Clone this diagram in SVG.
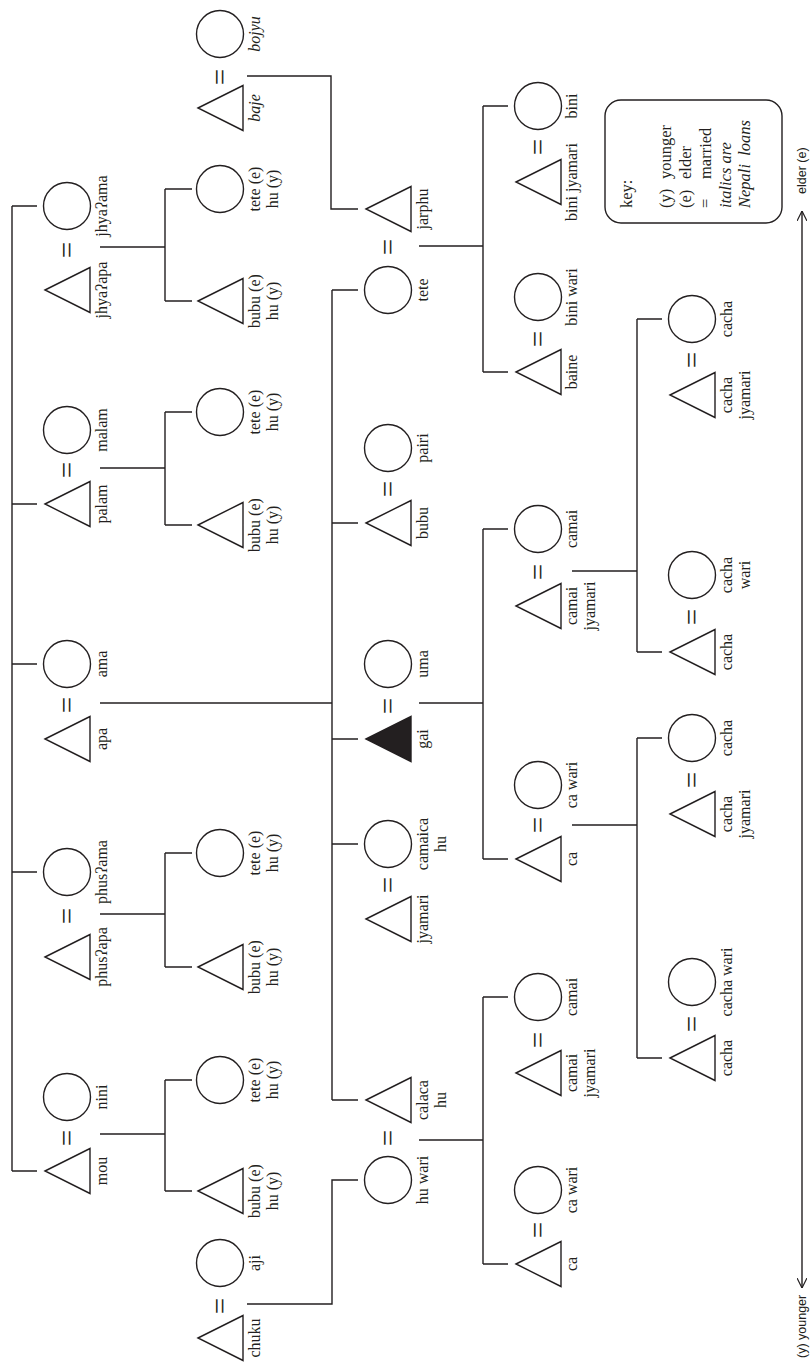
<svg xmlns="http://www.w3.org/2000/svg" width="811" height="1362" viewBox="0 0 811 1362">
<style>
.s{fill:none;stroke:#231f20;stroke-width:1.4}
.f{fill:#231f20;stroke:#231f20;stroke-width:1.4}
.ln{fill:none;stroke:#231f20;stroke-width:1.4}
.lb{font-family:'Liberation Serif','Times New Roman',serif;font-size:16px;fill:#231f20;text-anchor:middle}
.it{font-style:italic}
.eq{font-family:'Liberation Serif','Times New Roman',serif;font-size:29px;fill:#231f20;text-anchor:middle;dominant-baseline:central}
.key{font-family:'Liberation Serif','Times New Roman',serif;font-size:16.5px;fill:#231f20}
.ax{font-family:'Liberation Sans',Arial,sans-serif;font-size:12.5px;fill:#231f20;dominant-baseline:central}
</style>
<defs>
<path id="tri" d="M0,0 L45,-22.5 L45,22.5 Z"/>
<circle id="cir" cx="0" cy="0" r="23.5"/>
<marker id="ah" viewBox="0 0 10 10" refX="10" refY="5" markerWidth="10" markerHeight="10" markerUnits="userSpaceOnUse" orient="auto-start-reverse">
<path d="M0,0 L10,5 L0,10" fill="none" stroke="#231f20" stroke-width="1.2"/>
</marker>
</defs>

<g id="connectors">
<path class="ln" d="M12,206 V1171 M12,206 H37 M12,504 H37 M12,664 H37 M12,872 H37 M12,1171 H37"/>
<path class="ln" d="M100,247 H165 M165,189 V301 M165,189 H192 M165,301 H192"/>
<path class="ln" d="M100,468 H165 M165,412 V525 M165,412 H192 M165,525 H192"/>
<path class="ln" d="M100,703 H332"/>
<path class="ln" d="M100,914 H165 M165,853 V967 M165,853 H192 M165,967 H192"/>
<path class="ln" d="M100,1134 H165 M165,1080 V1191 M165,1080 H192 M165,1191 H192"/>
<path class="ln" d="M247,76 H331 V209 H358"/>
<path class="ln" d="M247,1304 H332 V1180 H358"/>
<path class="ln" d="M332,290 V1100 M332,290 H358 M332,523 H358 M332,739 H358 M332,844 H358 M332,1100 H358"/>
<path class="ln" d="M419,246 H483 M483,106 V372 M483,106 H508 M483,372 H508"/>
<path class="ln" d="M419,703 H483 M483,529 V859 M483,529 H508 M483,859 H508"/>
<path class="ln" d="M419,1140 H483 M483,997 V1264 M483,997 H508 M483,1264 H508"/>
<path class="ln" d="M572,571 H637 M637,319 V652 M637,319 H662 M637,652 H662"/>
<path class="ln" d="M572,825 H637 M637,738 V1058 M637,738 H662 M637,1058 H662"/>
</g>

<g font-family="Liberation Serif, serif">
<!-- Column 1 -->
<g id="n_jhyaama"><use href="#cir" class="s" x="67" y="206"/><text class="lb" x="107" y="206" transform="rotate(-90 107 206)">jhyaʔama</text></g>
<g id="n_jhyaapa"><use href="#tri" class="s" x="45" y="290"/><text class="lb" x="107" y="290" transform="rotate(-90 107 290)">jhyaʔapa</text></g>
<text class="eq" x="67" y="250" transform="rotate(-90 67 250)">=</text>
<g id="n_malam"><use href="#cir" class="s" x="67" y="430"/><text class="lb" x="107" y="430" transform="rotate(-90 107 430)">malam</text></g>
<g id="n_palam"><use href="#tri" class="s" x="45" y="504"/><text class="lb" x="107" y="504" transform="rotate(-90 107 504)">palam</text></g>
<text class="eq" x="67" y="470" transform="rotate(-90 67 470)">=</text>
<g id="n_ama"><use href="#cir" class="s" x="67" y="664"/><text class="lb" x="107" y="664" transform="rotate(-90 107 664)">ama</text></g>
<g id="n_apa"><use href="#tri" class="s" x="45" y="739"/><text class="lb" x="107" y="739" transform="rotate(-90 107 739)">apa</text></g>
<text class="eq" x="67" y="705" transform="rotate(-90 67 705)">=</text>
<g id="n_phusama"><use href="#cir" class="s" x="67" y="872"/><text class="lb" x="107" y="872" transform="rotate(-90 107 872)">phusʔama</text></g>
<g id="n_phusapa"><use href="#tri" class="s" x="45" y="957"/><text class="lb" x="107" y="957" transform="rotate(-90 107 957)">phusʔapa</text></g>
<text class="eq" x="67" y="916" transform="rotate(-90 67 916)">=</text>
<g id="n_nini"><use href="#cir" class="s" x="67" y="1097"/><text class="lb" x="107" y="1097" transform="rotate(-90 107 1097)">nini</text></g>
<g id="n_mou"><use href="#tri" class="s" x="45" y="1171"/><text class="lb" x="107" y="1171" transform="rotate(-90 107 1171)">mou</text></g>
<text class="eq" x="67" y="1138" transform="rotate(-90 67 1138)">=</text>

<!-- Column 2 -->
<g id="n_bojyu"><use href="#cir" class="s" x="220" y="34"/><text class="lb it" x="260" y="34" transform="rotate(-90 260 34)">bojyu</text></g>
<g id="n_baje"><use href="#tri" class="s" x="198" y="108"/><text class="lb it" x="260" y="108" transform="rotate(-90 260 108)">baje</text></g>
<text class="eq" x="220" y="77" transform="rotate(-90 220 77)">=</text>
<g id="n_tete1"><use href="#cir" class="s" x="220" y="189"/><text class="lb" x="260" y="189" transform="rotate(-90 260 189)"><tspan x="260">tete (e)</tspan><tspan x="260" dy="18">hu (y)</tspan></text></g>
<g id="n_bubu1"><use href="#tri" class="s" x="198" y="301"/><text class="lb" x="260" y="301" transform="rotate(-90 260 301)"><tspan x="260">bubu (e)</tspan><tspan x="260" dy="18">hu (y)</tspan></text></g>
<g id="n_tete2"><use href="#cir" class="s" x="220" y="412"/><text class="lb" x="260" y="412" transform="rotate(-90 260 412)"><tspan x="260">tete (e)</tspan><tspan x="260" dy="18">hu (y)</tspan></text></g>
<g id="n_bubu2"><use href="#tri" class="s" x="198" y="525"/><text class="lb" x="260" y="525" transform="rotate(-90 260 525)"><tspan x="260">bubu (e)</tspan><tspan x="260" dy="18">hu (y)</tspan></text></g>
<g id="n_tete3"><use href="#cir" class="s" x="220" y="853"/><text class="lb" x="260" y="853" transform="rotate(-90 260 853)"><tspan x="260">tete (e)</tspan><tspan x="260" dy="18">hu (y)</tspan></text></g>
<g id="n_bubu3"><use href="#tri" class="s" x="198" y="967"/><text class="lb" x="260" y="967" transform="rotate(-90 260 967)"><tspan x="260">bubu (e)</tspan><tspan x="260" dy="18">hu (y)</tspan></text></g>
<g id="n_tete4"><use href="#cir" class="s" x="220" y="1080"/><text class="lb" x="260" y="1080" transform="rotate(-90 260 1080)"><tspan x="260">tete (e)</tspan><tspan x="260" dy="18">hu (y)</tspan></text></g>
<g id="n_bubu4"><use href="#tri" class="s" x="198" y="1191"/><text class="lb" x="260" y="1191" transform="rotate(-90 260 1191)"><tspan x="260">bubu (e)</tspan><tspan x="260" dy="18">hu (y)</tspan></text></g>
<g id="n_aji"><use href="#cir" class="s" x="220" y="1263"/><text class="lb" x="260" y="1263" transform="rotate(-90 260 1263)">aji</text></g>
<g id="n_chuku"><use href="#tri" class="s" x="198" y="1338"/><text class="lb" x="260" y="1338" transform="rotate(-90 260 1338)">chuku</text></g>
<text class="eq" x="220" y="1306" transform="rotate(-90 220 1306)">=</text>

<!-- Column 3 -->
<g id="n_jarphu"><use href="#tri" class="s" x="366" y="209"/><text class="lb" x="428" y="209" transform="rotate(-90 428 209)">jarphu</text></g>
<text class="eq" x="388" y="247" transform="rotate(-90 388 247)">=</text>
<g id="n_tete"><use href="#cir" class="s" x="388" y="290"/><text class="lb" x="428" y="290" transform="rotate(-90 428 290)">tete</text></g>
<g id="n_pairi"><use href="#cir" class="s" x="388" y="448"/><text class="lb" x="428" y="448" transform="rotate(-90 428 448)">pairi</text></g>
<text class="eq" x="388" y="489" transform="rotate(-90 388 489)">=</text>
<g id="n_bubu"><use href="#tri" class="s" x="366" y="523"/><text class="lb" x="428" y="523" transform="rotate(-90 428 523)">bubu</text></g>
<g id="n_uma"><use href="#cir" class="s" x="388" y="664"/><text class="lb" x="428" y="664" transform="rotate(-90 428 664)">uma</text></g>
<text class="eq" x="388" y="706" transform="rotate(-90 388 706)">=</text>
<g id="n_gai"><use href="#tri" class="f" x="366" y="739"/><text class="lb" x="428" y="739" transform="rotate(-90 428 739)">gai</text></g>
<g id="n_camaicahu"><use href="#cir" class="s" x="388" y="844"/><text class="lb" x="428" y="844" transform="rotate(-90 428 844)"><tspan x="428">camaica</tspan><tspan x="428" dy="18">hu</tspan></text></g>
<text class="eq" x="388" y="885" transform="rotate(-90 388 885)">=</text>
<g id="n_jyamari"><use href="#tri" class="s" x="366" y="919"/><text class="lb" x="428" y="919" transform="rotate(-90 428 919)">jyamari</text></g>
<g id="n_calacahu"><use href="#tri" class="s" x="366" y="1100"/><text class="lb" x="428" y="1100" transform="rotate(-90 428 1100)"><tspan x="428">calaca</tspan><tspan x="428" dy="18">hu</tspan></text></g>
<text class="eq" x="388" y="1138" transform="rotate(-90 388 1138)">=</text>
<g id="n_huwari"><use href="#cir" class="s" x="388" y="1180"/><text class="lb" x="428" y="1180" transform="rotate(-90 428 1180)">hu wari</text></g>

<!-- Column 4 -->
<g id="n_bini"><use href="#cir" class="s" x="538" y="106"/><text class="lb" x="577" y="106" transform="rotate(-90 577 106)">bini</text></g>
<text class="eq" x="538" y="147" transform="rotate(-90 538 147)">=</text>
<g id="n_binijyamari"><use href="#tri" class="s" x="516" y="182"/><text class="lb" x="577" y="182" transform="rotate(-90 577 182)">bini jyamari</text></g>
<g id="n_biniwari"><use href="#cir" class="s" x="538" y="297"/><text class="lb" x="577" y="297" transform="rotate(-90 577 297)">bini wari</text></g>
<text class="eq" x="538" y="339" transform="rotate(-90 538 339)">=</text>
<g id="n_baine"><use href="#tri" class="s" x="516" y="372"/><text class="lb" x="577" y="372" transform="rotate(-90 577 372)">baine</text></g>
<g id="n_camai1"><use href="#cir" class="s" x="538" y="529"/><text class="lb" x="577" y="529" transform="rotate(-90 577 529)">camai</text></g>
<text class="eq" x="538" y="572" transform="rotate(-90 538 572)">=</text>
<g id="n_camaijyamari1"><use href="#tri" class="s" x="516" y="606"/><text class="lb" x="577" y="606" transform="rotate(-90 577 606)"><tspan x="577">camai</tspan><tspan x="577" dy="18">jyamari</tspan></text></g>
<g id="n_cawari1"><use href="#cir" class="s" x="538" y="785"/><text class="lb" x="577" y="785" transform="rotate(-90 577 785)">ca wari</text></g>
<text class="eq" x="538" y="825" transform="rotate(-90 538 825)">=</text>
<g id="n_ca1"><use href="#tri" class="s" x="516" y="859"/><text class="lb" x="577" y="859" transform="rotate(-90 577 859)">ca</text></g>
<g id="n_camai2"><use href="#cir" class="s" x="538" y="997"/><text class="lb" x="577" y="997" transform="rotate(-90 577 997)">camai</text></g>
<text class="eq" x="538" y="1040" transform="rotate(-90 538 1040)">=</text>
<g id="n_camaijyamari2"><use href="#tri" class="s" x="516" y="1073"/><text class="lb" x="577" y="1073" transform="rotate(-90 577 1073)"><tspan x="577">camai</tspan><tspan x="577" dy="18">jyamari</tspan></text></g>
<g id="n_cawari2"><use href="#cir" class="s" x="538" y="1190"/><text class="lb" x="577" y="1190" transform="rotate(-90 577 1190)">ca wari</text></g>
<text class="eq" x="538" y="1230" transform="rotate(-90 538 1230)">=</text>
<g id="n_ca2"><use href="#tri" class="s" x="516" y="1264"/><text class="lb" x="577" y="1264" transform="rotate(-90 577 1264)">ca</text></g>

<!-- Column 5 -->
<g id="n_cacha1"><use href="#cir" class="s" x="692" y="319"/><text class="lb" x="732" y="319" transform="rotate(-90 732 319)">cacha</text></g>
<text class="eq" x="692" y="360" transform="rotate(-90 692 360)">=</text>
<g id="n_cachajyamari1"><use href="#tri" class="s" x="670" y="395"/><text class="lb" x="732" y="395" transform="rotate(-90 732 395)"><tspan x="732">cacha</tspan><tspan x="732" dy="18">jyamari</tspan></text></g>
<g id="n_cachawari1"><use href="#cir" class="s" x="692" y="575"/><text class="lb" x="732" y="575" transform="rotate(-90 732 575)"><tspan x="732">cacha</tspan><tspan x="732" dy="18">wari</tspan></text></g>
<text class="eq" x="692" y="617" transform="rotate(-90 692 617)">=</text>
<g id="n_cacha2"><use href="#tri" class="s" x="670" y="652"/><text class="lb" x="732" y="652" transform="rotate(-90 732 652)">cacha</text></g>
<g id="n_cacha3"><use href="#cir" class="s" x="692" y="738"/><text class="lb" x="732" y="738" transform="rotate(-90 732 738)">cacha</text></g>
<text class="eq" x="692" y="780" transform="rotate(-90 692 780)">=</text>
<g id="n_cachajyamari2"><use href="#tri" class="s" x="670" y="814"/><text class="lb" x="732" y="814" transform="rotate(-90 732 814)"><tspan x="732">cacha</tspan><tspan x="732" dy="18">jyamari</tspan></text></g>
<g id="n_cachawari2"><use href="#cir" class="s" x="692" y="982"/><text class="lb" x="732" y="982" transform="rotate(-90 732 982)">cacha wari</text></g>
<text class="eq" x="692" y="1024" transform="rotate(-90 692 1024)">=</text>
<g id="n_cacha4"><use href="#tri" class="s" x="670" y="1058"/><text class="lb" x="732" y="1058" transform="rotate(-90 732 1058)">cacha</text></g>

<!-- Key -->
<g id="key">
<rect x="605" y="100" width="177" height="123" rx="16" ry="16" class="s"/>
<text class="key" x="632" y="208" transform="rotate(-90 632 208)">key:</text>
<text class="key" x="671" y="208" transform="rotate(-90 671 208)">(y)<tspan x="700">younger</tspan></text>
<text class="key" x="691" y="208" transform="rotate(-90 691 208)">(e)<tspan x="720">elder</tspan></text>
<text class="key" x="711" y="208" transform="rotate(-90 711 208)">=<tspan x="740">married</tspan></text>
<text class="key it" x="731" y="208" transform="rotate(-90 731 208)">italics are</text>
<text class="key it" x="750" y="208" transform="rotate(-90 750 208)" xml:space="preserve">Nepali  loans</text>
</g>
</g>

<!-- Axis -->
<g id="axis">
<path class="ln" d="M802,1288 V211" marker-start="url(#ah)" marker-end="url(#ah)"/>
<text class="ax" x="802" y="194" transform="rotate(-90 802 194)">elder (e)</text>
<text class="ax" x="802" y="1358" transform="rotate(-90 802 1358)">(y) younger</text>
</g>
</svg>
